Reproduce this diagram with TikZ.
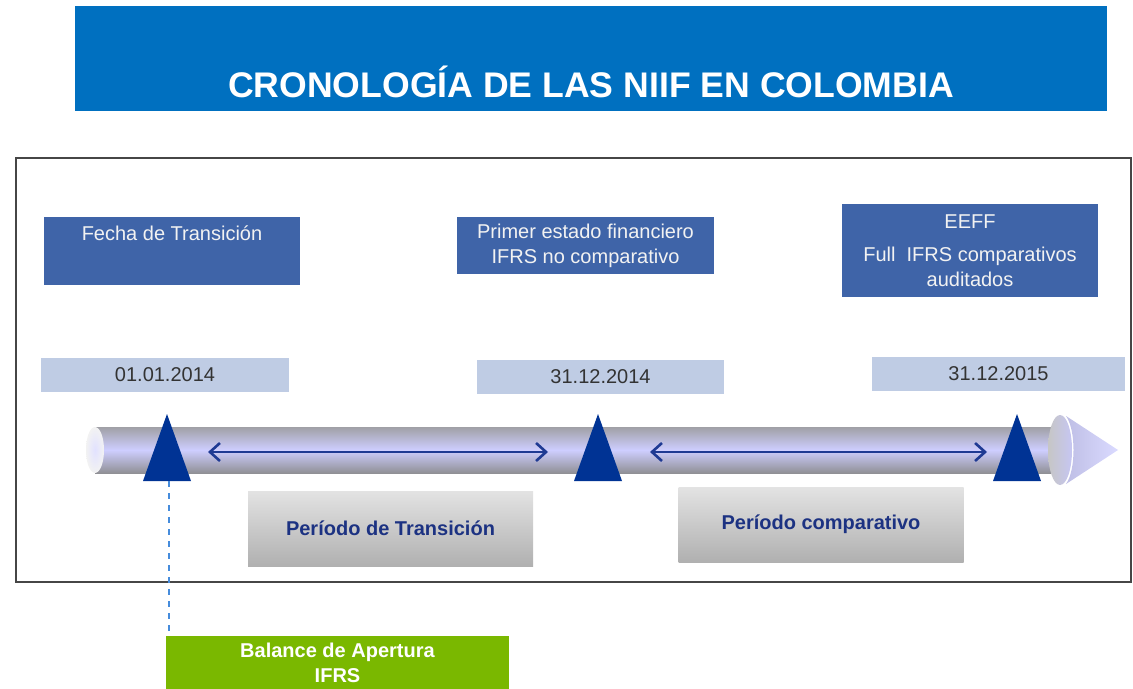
\documentclass[tikz,border=0pt]{standalone}
\usepackage{fontspec}
\setmainfont{Liberation Sans}
\usepackage{xcolor}
\usetikzlibrary{arrows.meta}

\definecolor{titleblue}{RGB}{0,112,192}
\definecolor{boxblue}{RGB}{63,100,168}
\definecolor{datefill}{RGB}{191,204,228}
\definecolor{markblue}{RGB}{0,51,148}
\definecolor{arrowblue}{RGB}{31,58,147}
\definecolor{periodtext}{RGB}{28,50,130}
\definecolor{greenfill}{RGB}{122,184,0}
\definecolor{dashblue}{RGB}{70,140,220}
\definecolor{tubegray}{RGB}{160,160,166}
\definecolor{tubemid}{RGB}{206,206,255}

\begin{document}
\begin{tikzpicture}[x=0.5pt,y=-0.5pt,
  infobox/.style={fill=boxblue, text=white!95!black, align=center, inner sep=0pt,
    minimum width=128pt, font=\fontsize{10}{12.5}\selectfont},
  datebox/.style={fill=datefill, text=black!80, inner sep=0pt,
    minimum height=17pt, font=\fontsize{10}{12}\selectfont},
  periodbox/.style={top color=gray!22, bottom color=gray!62, text=periodtext,
    inner sep=0pt, minimum width=142.5pt, minimum height=37.5pt,
    font=\bfseries\fontsize{10}{12}\selectfont},
  span/.style={arrowblue, line width=1.3pt, {Straight Barb[length=5pt,width=9pt]}-{Straight Barb[length=5pt,width=9pt]}}]
\useasboundingbox (0,0) rectangle (1133,689);

    % title band
    \node[fill=titleblue, minimum width=516pt, minimum height=52.5pt, inner sep=0pt] (band) at (591,58.5) {};
    \node[text=white, font=\bfseries\fontsize{17.8}{20}\selectfont] (title) at (591,82) {CRONOLOGÍA DE LAS NIIF EN COLOMBIA};

    % frame
    \draw[gray!55!black, line width=1.1pt] (16,158) rectangle (1131,582);

    % events
    \node[infobox, minimum height=34pt] (fecha) at (172,251) {Fecha de Transición\\[5pt]~};
    \node[infobox, minimum width=128.5pt, minimum height=28.5pt] (primer) at (585.5,245.5) {Primer estado financiero\\IFRS no comparativo};
    \node[infobox, minimum height=46.5pt] (eeff) at (970,250.5) {EEFF\\[4pt]Full\ \ IFRS comparativos\\auditados};

    % dates
    \node[datebox, minimum width=124pt] (d1) at (165,375) {01.01.2014};
    \node[datebox, minimum width=123.5pt] (d2) at (600.5,376.5) {31.12.2014};
    \node[datebox, minimum width=126.5pt] (d3) at (998.5,373.5) {31.12.2015};

    % the time line
    \shade[top color=tubegray, bottom color=tubegray!90!black, middle color=tubemid] (95,427) rectangle (1058,473);
    \shade[inner color=tubemid!60, outer color=gray!10] (95,450) ellipse (4.5pt and 11.5pt);
    \shade[left color=gray!45, right color=tubemid!90!gray] (1060,450) ellipse (6pt and 17.5pt);
    \shade[left color=tubemid!80!gray, right color=tubemid!75] (1066,416) .. controls (1076,430) and (1076,470) .. (1066,484) -- (1118,450) -- cycle;

    % markers
    \foreach \x in {167,598,1017}
        \fill[markblue] (\x,414) -- (\x+24,481) -- (\x-24,481) -- cycle;
    \coordinate (m1) at (169,481);

    % draw the arrows
    \coordinate (s1) at (208,452);
    \coordinate (e1) at (548,452);
    \coordinate (s2) at (650,452);
    \coordinate (e2) at (987,452);
    \draw[span] (s1) -- (e1);
    \draw[span] (s2) -- (e2);

    % periods
    \node[periodbox] (trans) at (390.5,528.5) {Período de Transición};
    \node[periodbox] (comp) at (821,524.5) {Período comparativo};

    % opening balance
    \node[fill=greenfill, text=white, align=center, inner sep=0pt, minimum width=171.5pt, minimum height=26.5pt,
      font=\bfseries\fontsize{10}{12.5}\selectfont] (balance) at (337.5,662.5) {Balance de Apertura\\IFRS};
    \draw[dashblue, dashed, line width=0.8pt] (m1) -- (m1 |- balance.north);

\end{tikzpicture}
\end{document}
